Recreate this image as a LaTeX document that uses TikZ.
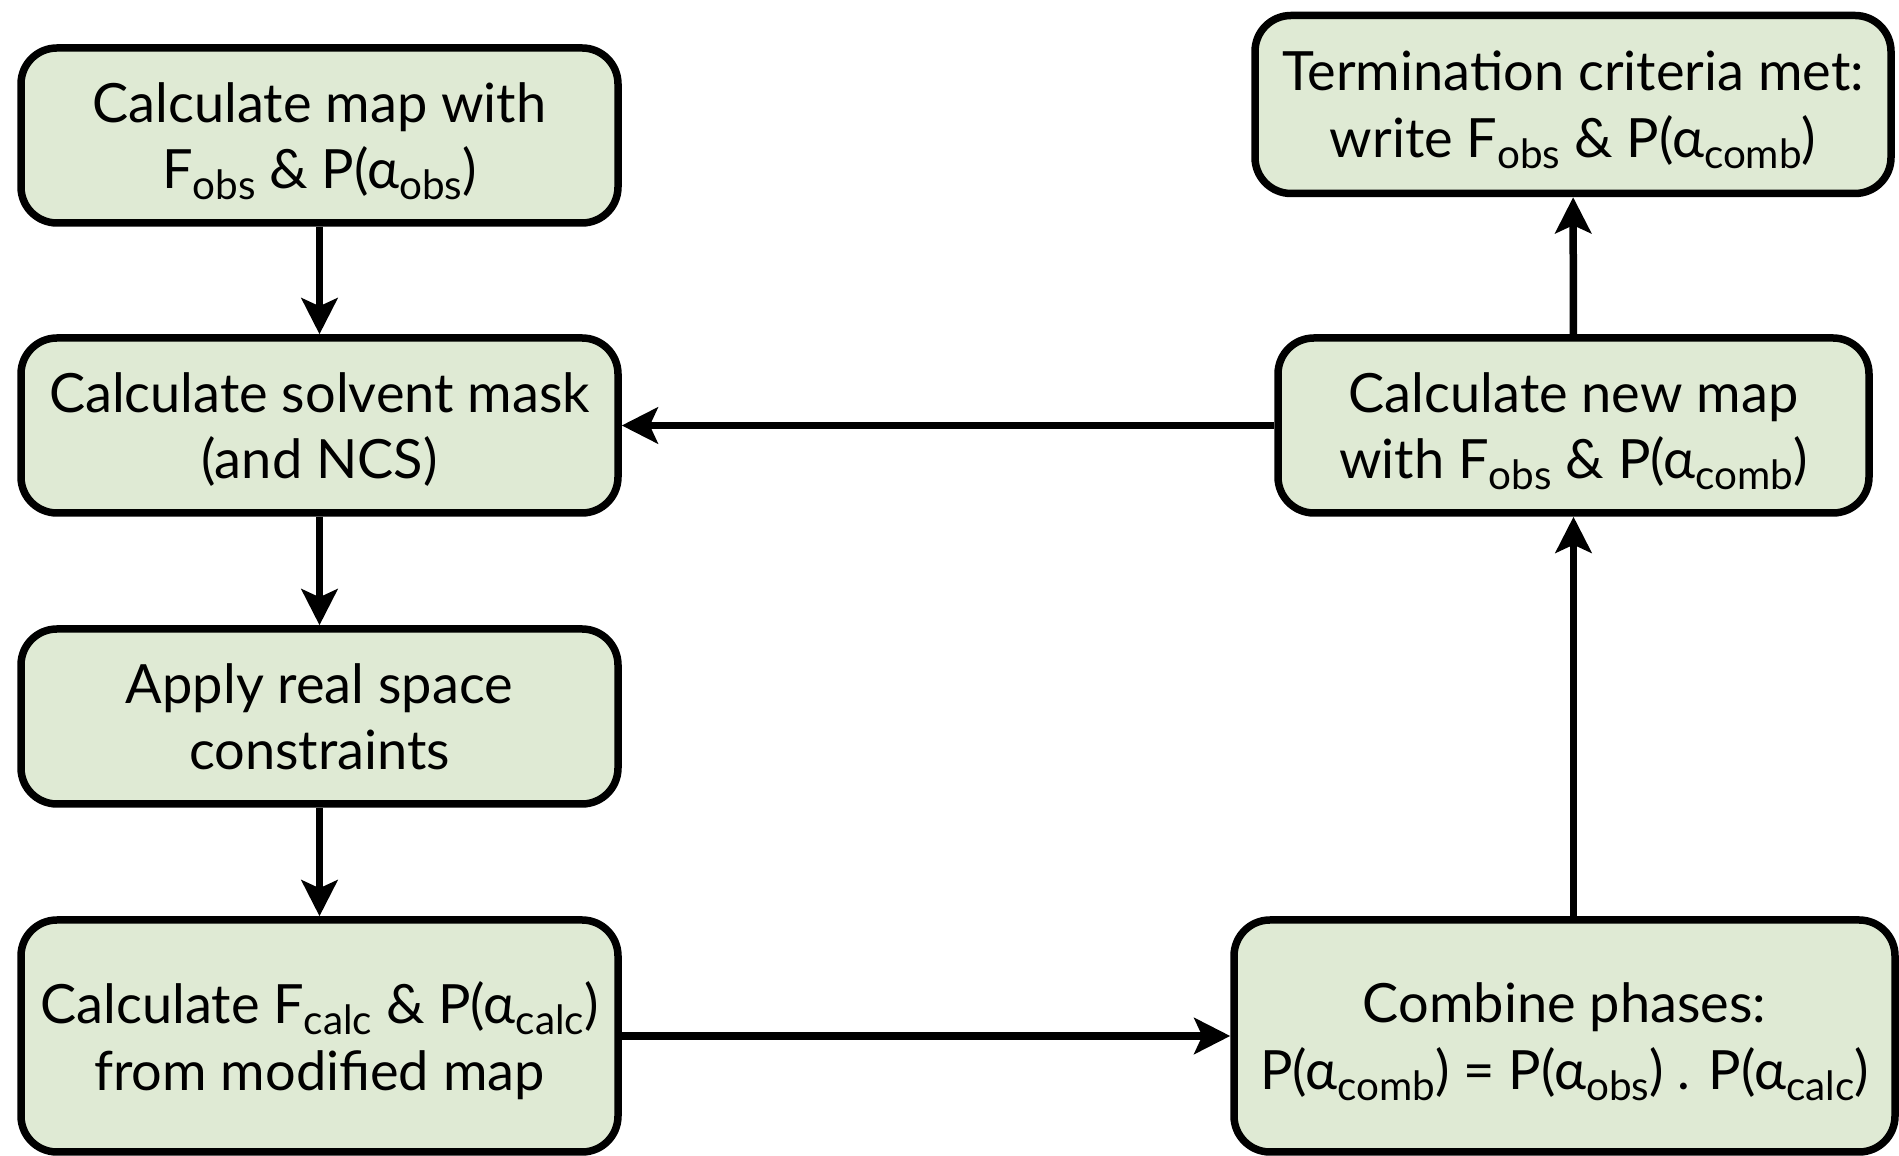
\documentclass[tikz,border=0pt]{standalone}
\usepackage{fontspec}
\setmainfont{Lato}
\usetikzlibrary{arrows.meta}

\definecolor{boxgreen}{RGB}{223,234,212}
\newcommand{\subs}[1]{\raisebox{-0.4ex}[0pt][0pt]{\fontsize{11.5}{11.5}\selectfont #1}}

\tikzset{
    procbox/.style={draw, line width=0.075cm, fill=boxgreen, rounded corners=0.36cm,
        align=center, inner sep=0pt, text depth=0pt, font=\fontsize{15.4}{19}\selectfont},
    flow/.style={line width=0.075cm, -{Stealth[length=0.36cm,width=0.36cm,inset=0.08cm]}}
}

\begin{document}
\begin{tikzpicture}
        \useasboundingbox (0,0) rectangle (18.99,-11.56);
        % left column
        \node[procbox, minimum width=5.97cm, minimum height=1.75cm] (calcmap) at (3.195,-1.355) {Calculate map with\\F\subs{obs} \& P(α\subs{obs})};
        \node[procbox, minimum width=5.97cm, minimum height=1.75cm] (solvent) at (3.195,-4.255) {Calculate solvent mask\\(and NCS)};
        \node[procbox, minimum width=5.97cm, minimum height=1.75cm] (realspace) at (3.195,-7.165) {Apply real space\\constraints};
        \node[procbox, minimum width=5.97cm, minimum height=2.32cm] (fcalc) at (3.195,-10.36) {Calculate F\subs{calc} \& P(α\subs{calc})\\from modified map};
        % right column
        \node[procbox, minimum width=6.61cm, minimum height=2.32cm] (combine) at (15.645,-10.36) {Combine phases:\\P(α\subs{comb}) = P(α\subs{obs}) . P(α\subs{calc})};
        \node[procbox, minimum width=5.91cm, minimum height=1.75cm] (newmap) at (15.735,-4.255) {Calculate new map\\with F\subs{obs} \& P(α\subs{comb})};
        \node[procbox, minimum width=6.36cm, minimum height=1.78cm] (termination) at (15.73,-1.045) {Termination criteria met:\\write F\subs{obs} \& P(α\subs{comb})};
        % connectors
        \draw[flow] (calcmap) -- (solvent);
        \draw[flow] (solvent) -- (realspace);
        \draw[flow] (realspace) -- (fcalc);
        \draw[flow] (fcalc) -- (combine);
        \draw[flow] (combine.north -| newmap) -- (newmap);
        \draw[flow] (newmap) -- (termination);
        \draw[flow] (newmap) -- (solvent);
\end{tikzpicture}
\end{document}
